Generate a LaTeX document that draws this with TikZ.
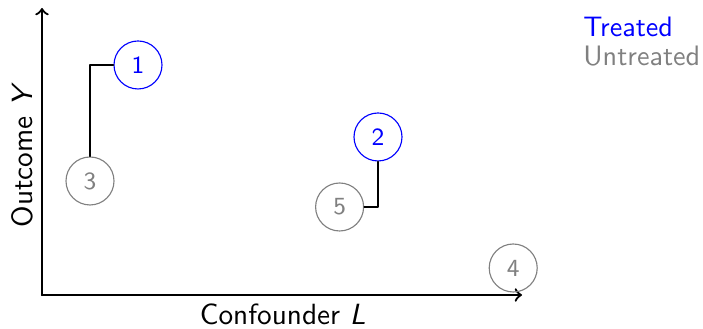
\documentclass[tikz,border=0pt]{standalone}
\begin{document}
\begin{tikzpicture}[font=\sffamily\fontsize{10.4}{12}\selectfont, line join=round, line cap=round,
    treated/.style={circle, draw=blue, text=blue, minimum size=0.6cm, inner sep=0pt, font=\sffamily\fontsize{8.8}{10}\selectfont},
    untreated/.style={circle, draw=gray, text=gray, minimum size=0.6cm, inner sep=0pt, font=\sffamily\fontsize{8.8}{10}\selectfont},
    legend/.style={anchor=base west, inner sep=0pt, font=\sffamily\fontsize{10}{12}\selectfont}]
    \useasboundingbox (-0.525,-0.425) rectangle (8.2625,3.6875);
    % axes
    \coordinate (O) at (0,0);
    \coordinate (xend) at (6,0);
    \coordinate (yend) at (0,3.5875);
    \draw[->, thick] (O) -- (xend);
    \draw[->, thick] (O) -- (yend);
    \node[anchor=base, inner sep=0pt] (xlab) at (3.01,-0.37) {Confounder \textit{L}};
    \node[rotate=90] (ylab) at (-0.24,1.75) {Outcome \textit{Y}};
    % units
    \node[treated] (t1) at (1.2,2.875) {1};
    \node[treated] (t2) at (4.2,1.975) {2};
    \node[untreated] (u3) at (0.6,1.425) {3};
    \node[untreated] (u4) at (5.89,0.3375) {4};
    \node[untreated] (u5) at (3.72,1.1) {5};
    \draw (u3.north) |- (t1.west);
    \draw (t2.south) |- (u5.east);
    % legend
    \node[legend, text=blue] (leg1) at (6.76,3.229) {Treated};
    \node[legend, text=gray] (leg2) at (6.76,2.8625) {Untreated};
\end{tikzpicture}
\end{document}
